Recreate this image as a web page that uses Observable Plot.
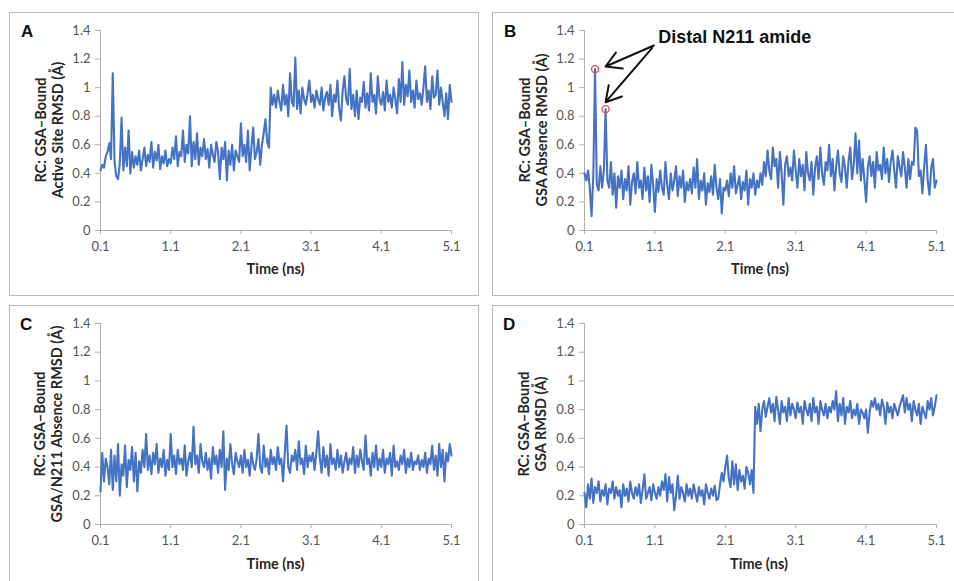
<!DOCTYPE html>
<html><head><meta charset="utf-8">
<script src="https://cdn.jsdelivr.net/npm/d3@7"></script>
<script src="https://cdn.jsdelivr.net/npm/@observablehq/plot@0.6"></script>
<style>
body{margin:0;background:#fff;}
#root{position:relative;width:954px;height:581px;overflow:hidden;background:#fff;}
.box{position:absolute;border:1px solid #b8b8b8;box-sizing:border-box;}
.svgwrap{position:absolute;}
.svgwrap svg{overflow:visible;}
.letter{position:absolute;font:bold 17px "Liberation Sans",Arial,sans-serif;line-height:17px;color:#111;}
.ytitle{position:absolute;transform:translate(-50%,-50%) rotate(-90deg);white-space:nowrap;text-align:center;font:bold 14.5px Lato,sans-serif;line-height:17px;color:#262626;}
.xtitle{position:absolute;transform:translate(-50%,-50%);white-space:nowrap;font:bold 14.5px Lato,sans-serif;color:#262626;}
</style></head><body><div id="root"></div>
<script>
// ---------- data ----------
const tStart = 0.1, tStep = 0.025;
const xTicks = [0.1, 1.1, 2.1, 3.1, 4.1, 5.1];
const yTicks = [0, 0.2, 0.4, 0.6, 0.8, 1.0, 1.2, 1.4];
const xTitle = "Time (ns)";
const panelLetters = ["A", "B", "C", "D"];
const yTitleTop = "RC: GSA\u2013Bound";
const yTitleBottom = ["Active Site RMSD (\u00C5)", "GSA Absence RMSD (\u00C5)", "GSA/N211 Absence RMSD (\u00C5)", "GSA RMSD (\u00C5)"];

const seriesA = [
0.42,0.46,0.44,0.52,0.55,0.61,0.50,1.10,0.48,0.38,0.36,0.47,0.79,0.42,0.58,0.45,0.70,0.40,0.55,0.44,
0.52,0.46,0.56,0.42,0.50,0.58,0.45,0.53,0.48,0.62,0.44,0.55,0.49,0.60,0.43,0.52,0.47,0.56,0.45,0.50,
0.47,0.58,0.50,0.66,0.45,0.55,0.52,0.70,0.48,0.60,0.54,0.80,0.45,0.62,0.50,0.68,0.46,0.58,0.52,0.64,
0.50,0.57,0.44,0.60,0.53,0.48,0.62,0.55,0.36,0.58,0.50,0.62,0.35,0.56,0.46,0.60,0.42,0.56,0.52,0.48,
0.75,0.52,0.60,0.48,0.70,0.42,0.58,0.72,0.50,0.55,0.64,0.46,0.60,0.68,0.78,0.62,0.58,1.00,0.88,0.95,
0.86,0.98,0.90,0.84,1.02,0.88,0.95,0.80,1.10,0.90,0.87,1.21,0.85,0.98,0.82,1.00,0.92,0.88,0.96,1.05,
0.90,0.95,0.86,0.98,0.92,0.88,1.00,0.84,0.93,0.97,0.88,1.02,0.80,0.95,0.90,1.05,0.85,0.77,0.98,1.08,
0.92,0.88,1.13,0.85,0.95,0.80,0.98,0.78,0.93,0.90,1.04,0.86,0.96,0.84,1.10,0.90,0.95,0.82,1.08,0.92,
0.88,0.97,0.84,1.05,0.90,0.95,0.86,1.00,0.92,0.82,1.06,0.90,1.18,0.88,1.02,0.94,1.12,0.90,0.98,0.86,
1.05,0.92,0.96,0.88,1.00,1.15,0.90,0.98,0.85,1.08,0.93,0.95,1.12,0.88,1.00,0.90,0.80,0.96,0.78,1.02,
0.90];
const seriesB = [
0.40,0.35,0.42,0.30,0.10,0.38,1.13,0.32,0.28,0.45,0.30,0.42,0.85,0.35,0.30,0.48,0.25,0.40,0.16,0.38,
0.30,0.42,0.22,0.36,0.28,0.45,0.18,0.34,0.40,0.26,0.48,0.30,0.35,0.22,0.44,0.28,0.38,0.20,0.46,0.32,
0.13,0.36,0.27,0.42,0.30,0.25,0.48,0.32,0.22,0.40,0.28,0.35,0.45,0.24,0.38,0.30,0.42,0.20,0.34,0.28,
0.36,0.26,0.44,0.30,0.50,0.22,0.35,0.28,0.40,0.18,0.33,0.27,0.38,0.25,0.46,0.30,0.22,0.36,0.12,0.30,
0.28,0.35,0.24,0.40,0.30,0.45,0.26,0.32,0.38,0.22,0.34,0.28,0.42,0.18,0.36,0.30,0.40,0.25,0.35,0.30,
0.40,0.32,0.48,0.38,0.56,0.42,0.36,0.58,0.45,0.50,0.30,0.55,0.40,0.18,0.46,0.52,0.38,0.44,0.35,0.56,
0.42,0.30,0.50,0.38,0.46,0.28,0.55,0.40,0.35,0.48,0.25,0.44,0.52,0.36,0.58,0.40,0.32,0.48,0.42,0.60,
0.38,0.50,0.28,0.45,0.56,0.40,0.34,0.52,0.44,0.30,0.48,0.58,0.36,0.46,0.68,0.40,0.63,0.35,0.50,0.36,
0.20,0.44,0.52,0.38,0.48,0.30,0.55,0.42,0.46,0.36,0.58,0.40,0.50,0.34,0.48,0.56,0.42,0.30,0.52,0.45,
0.38,0.55,0.44,0.30,0.50,0.36,0.48,0.46,0.72,0.70,0.38,0.42,0.26,0.45,0.60,0.35,0.25,0.44,0.50,0.30,
0.35];
const seriesC = [
0.23,0.50,0.30,0.46,0.40,0.28,0.52,0.24,0.48,0.30,0.56,0.20,0.42,0.34,0.55,0.26,0.45,0.38,0.54,0.30,
0.50,0.23,0.44,0.36,0.52,0.40,0.63,0.38,0.48,0.35,0.50,0.42,0.56,0.36,0.46,0.40,0.52,0.34,0.45,0.38,
0.63,0.40,0.48,0.35,0.52,0.42,0.46,0.38,0.55,0.34,0.44,0.50,0.40,0.68,0.42,0.48,0.36,0.56,0.44,0.40,
0.50,0.38,0.46,0.32,0.54,0.42,0.48,0.36,0.52,0.40,0.65,0.24,0.46,0.38,0.56,0.42,0.35,0.50,0.44,0.40,
0.48,0.36,0.52,0.40,0.45,0.34,0.50,0.42,0.38,0.46,0.63,0.40,0.36,0.55,0.40,0.46,0.35,0.52,0.42,0.47,
0.38,0.54,0.42,0.46,0.30,0.50,0.69,0.40,0.36,0.48,0.44,0.52,0.38,0.58,0.42,0.46,0.35,0.55,0.40,0.48,
0.44,0.50,0.38,0.50,0.65,0.46,0.36,0.54,0.40,0.48,0.34,0.56,0.42,0.46,0.38,0.52,0.40,0.48,0.36,0.44,
0.50,0.38,0.46,0.42,0.54,0.36,0.48,0.40,0.52,0.44,0.38,0.62,0.42,0.46,0.34,0.50,0.40,0.55,0.38,0.46,
0.40,0.52,0.36,0.46,0.42,0.50,0.34,0.55,0.40,0.44,0.38,0.48,0.42,0.52,0.36,0.46,0.40,0.50,0.38,0.44,
0.42,0.48,0.38,0.45,0.40,0.50,0.36,0.46,0.42,0.55,0.38,0.48,0.34,0.56,0.40,0.52,0.30,0.50,0.44,0.56,
0.48];
const seriesD = [
0.22,0.12,0.28,0.18,0.32,0.15,0.26,0.22,0.30,0.16,0.24,0.20,0.28,0.14,0.25,0.22,0.30,0.18,0.26,0.20,
0.24,0.12,0.28,0.20,0.25,0.16,0.30,0.22,0.18,0.26,0.20,0.28,0.15,0.24,0.35,0.18,0.22,0.26,0.17,0.28,
0.22,0.18,0.26,0.20,0.30,0.24,0.35,0.16,0.33,0.22,0.28,0.10,0.20,0.34,0.18,0.26,0.22,0.16,0.28,0.20,
0.25,0.18,0.28,0.22,0.16,0.26,0.20,0.24,0.14,0.28,0.22,0.18,0.25,0.20,0.27,0.17,0.18,0.28,0.36,0.30,
0.40,0.48,0.32,0.26,0.44,0.28,0.42,0.24,0.38,0.30,0.34,0.25,0.40,0.36,0.28,0.38,0.22,0.82,0.70,0.84,
0.65,0.80,0.86,0.75,0.82,0.88,0.78,0.84,0.72,0.89,0.80,0.70,0.86,0.78,0.82,0.72,0.88,0.76,0.84,0.80,
0.74,0.85,0.78,0.82,0.70,0.86,0.80,0.76,0.84,0.72,0.88,0.78,0.82,0.70,0.86,0.80,0.76,0.84,0.74,0.82,
0.78,0.86,0.80,0.93,0.72,0.84,0.76,0.88,0.70,0.82,0.78,0.86,0.74,0.80,0.76,0.84,0.70,0.80,0.78,0.74,
0.80,0.64,0.78,0.86,0.82,0.88,0.80,0.84,0.76,0.87,0.82,0.70,0.85,0.78,0.82,0.74,0.84,0.80,0.76,0.82,
0.86,0.90,0.78,0.88,0.80,0.84,0.72,0.86,0.80,0.76,0.84,0.70,0.82,0.78,0.74,0.86,0.80,0.88,0.76,0.82,
0.90];

// annotation (panel B)
const annotLabel = "Distal N211 amide";
const annotLabelAt = [1.148, 1.351];
const highlightIdxB = [6, 12];
const arrowFromX = [1.085, 1.062];
const arrowFromY = [1.295, 1.279];
const arrowToX = [0.399, 0.399];
const arrowToY = [1.148, 0.898];

// ---------- layout ----------
const root = document.getElementById("root");
const allSeries = [seriesA, seriesB, seriesC, seriesD];
const layout = [
  {box:[9,12,470,284],  svg:[9,12,469,283],  m:[18,27,65,91], letter:[21,23],  yt:[48.5,130], xt:[275.5,268]},
  {box:[492,12,470,284],svg:[492,12,462,283],m:[18,18,65,92], letter:[504,23], yt:[532.5,130], xt:[760,268]},
  {box:[9,305,470,290], svg:[9,305,469,276], m:[18,27,57,91], letter:[20,316], yt:[48,424], xt:[275.5,562.5]},
  {box:[492,305,470,290],svg:[492,305,462,276],m:[18,18,57,92],letter:[503,316], yt:[532,424], xt:[759,562.5]}
];
const lineColor = "#4472C4", axisColor = "#b0b0b0", tickText = "#555555";

function el(cls, css, html) {
  const d = document.createElement("div");
  d.className = cls; Object.assign(d.style, css); if (html != null) d.innerHTML = html;
  root.appendChild(d); return d;
}

allSeries.forEach((vals, k) => {
  const L = layout[k];
  el("box", {left:L.box[0]+"px", top:L.box[1]+"px", width:L.box[2]+"px", height:L.box[3]+"px"});
  const data = vals.map((v, i) => ({t: tStart + i * tStep, v}));
  const marks = [
    Plot.ruleY([0], {stroke: axisColor}),
    Plot.ruleX([xTicks[0]], {stroke: axisColor}),
    Plot.axisX({ticks: xTicks, tickFormat: d => d.toFixed(1), tickSize: 4, tickPadding: 7, stroke: axisColor, fill: tickText, label: null}),
    Plot.axisY({ticks: yTicks, tickFormat: d => String(+d.toFixed(1)), tickSize: 5, tickPadding: 5, stroke: axisColor, fill: tickText, label: null}),
    Plot.line(data, {x: "t", y: "v", stroke: lineColor, strokeWidth: 2.1})
  ];
  if (k === 1) {
    const hl = highlightIdxB.map(i => data[i]);
    const arrows = arrowFromX.map((x1, i) => ({x1, y1: arrowFromY[i], x2: arrowToX[i], y2: arrowToY[i]}));
    marks.push(
      Plot.dot(hl, {x: "t", y: "v", r: 3.5, stroke: "#e8463e", strokeWidth: 1.3, fill: "none"}),
      Plot.arrow(arrows, {x1: "x1", y1: "y1", x2: "x2", y2: "y2", stroke: "#111", strokeWidth: 2, headLength: 13}),
      Plot.text([annotLabel], {x: () => annotLabelAt[0], y: () => annotLabelAt[1], text: d => d, textAnchor: "start",
        fontSize: 18, fontWeight: "bold", fontFamily: "'Liberation Sans', Arial, sans-serif", fill: "#111"})
    );
  }
  const svg = Plot.plot({
    width: L.svg[2], height: L.svg[3],
    marginTop: L.m[0], marginRight: L.m[1], marginBottom: L.m[2], marginLeft: L.m[3],
    x: {domain: [xTicks[0], xTicks[xTicks.length - 1]]},
    y: {domain: [yTicks[0], yTicks[yTicks.length - 1]]},
    style: {fontSize: "13px", fontFamily: "Lato, sans-serif", background: "transparent", overflow: "visible"},
    marks
  });
  const w = el("svgwrap", {left: L.svg[0]+"px", top: L.svg[1]+"px"});
  w.appendChild(svg);
  el("letter", {left: L.letter[0]+"px", top: L.letter[1]+"px"}, panelLetters[k]);
  el("ytitle", {left: L.yt[0]+"px", top: L.yt[1]+"px"}, yTitleTop + "<br>" + yTitleBottom[k]);
  el("xtitle", {left: L.xt[0]+"px", top: L.xt[1]+"px"}, xTitle);
});
</script></body></html>
